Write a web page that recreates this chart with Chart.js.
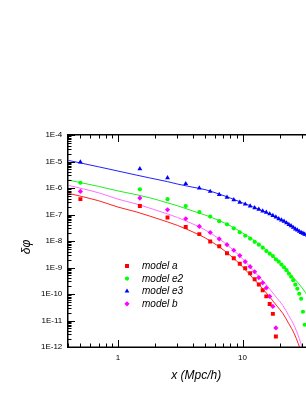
<!DOCTYPE html>
<html><head><meta charset="utf-8">
<script src="https://cdn.jsdelivr.net/npm/chart.js@4.4.1/dist/chart.umd.min.js"></script>
<style>html,body{margin:0;padding:0;background:#fff;overflow:hidden;width:306px;height:396px}canvas{display:block}</style>
</head><body>
<canvas id="c" width="330" height="396"></canvas>
<script>
// ---- data ----
const seriesLabels = ['model a', 'model e2', 'model e3', 'model b'];

const pointX = [0.5,1.5,2.5,3.5,4.5,5.5,6.5,7.5,8.5,9.5,10.5,11.5,12.5,13.5,14.5,15.5,
  16.5,17.5,18.5,19.5,20.5,21.5,22.5,23.5,24.5,25.5,26.5,27.5,28.5,29.5,30.5,31.5];

const pointsA = [3.80e-7,2.09e-7,7.76e-8,3.39e-8,1.82e-8,9.55e-9,6.31e-9,3.47e-9,2.24e-9,1.38e-9,
  9.33e-10,6.03e-10,3.63e-10,2.29e-10,1.38e-10,8.13e-11,4.17e-11,1.78e-11,2.51e-12];
const pointsE2 = [1.58e-6,8.91e-7,3.80e-7,2.09e-7,1.23e-7,8.32e-8,5.62e-8,4.27e-8,3.02e-8,2.14e-8,
  1.58e-8,1.23e-8,9.33e-9,7.24e-9,5.62e-9,4.17e-9,3.31e-9,2.69e-9,2.04e-9,1.66e-9,1.29e-9,
  1.02e-9,7.94e-10,5.89e-10,4.47e-10,3.31e-10,2.24e-10,1.58e-10,1.02e-10,6.61e-11,2.14e-11,6.92e-12];
const pointsE3 = [9.55e-6,5.25e-6,2.40e-6,1.45e-6,1.00e-6,7.41e-7,5.62e-7,4.47e-7,3.55e-7,2.88e-7,
  2.45e-7,2.09e-7,1.78e-7,1.58e-7,1.35e-7,1.20e-7,1.05e-7,9.12e-8,7.94e-8,6.92e-8,6.17e-8,
  5.50e-8,4.79e-8,4.17e-8,3.72e-8,3.24e-8,2.82e-8,2.57e-8,2.29e-8,2.09e-8,1.95e-8,1.78e-8];
const pointsB = [7.41e-7,4.17e-7,1.51e-7,6.92e-8,3.55e-8,2.09e-8,1.20e-8,7.24e-9,4.47e-9,2.82e-9,
  1.66e-9,1.07e-9,6.92e-10,4.17e-10,2.63e-10,1.70e-10,8.13e-11,3.39e-11,5.25e-12];

const lineX = [0.4,0.7,1,1.4,1.8,2.5,3,4,5,6.5,8,10,12,14,16.5,19,21,23.5,26,28,30,32,36,40,45];
const lineA = [6.31e-7,3.31e-7,1.91e-7,1.26e-7,8.71e-8,5.25e-8,3.89e-8,2.19e-8,1.32e-8,6.03e-9,
  2.82e-9,1.07e-9,4.17e-10,1.91e-10,7.76e-11,3.39e-11,1.86e-11,7.59e-12,3.16e-12,1.32e-12,
  5.01e-13,1.58e-13,1.58e-14,1e-15,3.16e-17];
const lineE2 = [2.00e-6,1.15e-6,7.76e-7,5.62e-7,4.27e-7,2.75e-7,2.14e-7,1.35e-7,9.55e-8,5.89e-8,
  3.72e-8,2.00e-8,1.17e-8,6.76e-9,3.55e-9,1.86e-9,1.17e-9,6.76e-10,3.80e-10,2.57e-10,1.70e-10,
  1.12e-10,5.01e-11,2.00e-11,6.31e-12];
const lineE3 = [1.10e-5,6.31e-6,4.37e-6,3.09e-6,2.40e-6,1.74e-6,1.41e-6,1.07e-6,8.71e-7,5.89e-7,
  4.17e-7,2.75e-7,2.00e-7,1.48e-7,1.05e-7,7.59e-8,5.89e-8,4.27e-8,3.09e-8,2.40e-8,1.91e-8,
  1.51e-8,1.00e-8,6.31e-9,3.55e-9];
const lineB = [1.26e-6,6.61e-7,3.80e-7,2.51e-7,1.74e-7,1.05e-7,7.76e-8,4.37e-8,2.63e-8,1.20e-8,
  5.62e-9,2.14e-9,8.32e-10,3.80e-10,1.55e-10,6.76e-11,3.72e-11,1.51e-11,6.31e-12,2.63e-12,
  1.00e-12,3.16e-13,3.16e-14,2.0e-15,6.31e-17];

// axis ticks
const xMajorTicks = [1, 10];
const xMinorTicks = [0.4,0.5,0.6,0.7,0.8,0.9,2,3,4,5,6,7,8,9,20,30,40];
const yDecades = [1e-12,1e-11,1e-10,1e-9,1e-8,1e-7,1e-6,1e-5,1e-4];
const yMinorMult = [2,3,4,5,6,7,8,9];
const yTickLabels = ['1E-12','1E-11','1E-10','1E-9','1E-8','1E-7','1E-6','1E-5','1E-4'];

// ---- styles ----
const FONT = '"Liberation Sans", Arial, Helvetica, sans-serif';
Chart.defaults.font.family = FONT;
Chart.defaults.color = '#000';

function pts(xs, ys){ return ys.map((y,i)=>({x:xs[i], y})); }

const markerSets = [
  {label:seriesLabels[0], data:pts(pointX,pointsA), color:'#ff0000', style:'rect', r:2.8},
  {label:seriesLabels[1], data:pts(pointX,pointsE2), color:'#00ff00', style:'circle', r:2.1},
  {label:seriesLabels[2], data:pts(pointX,pointsE3), color:'#0000ff', style:'triangle', r:2.8},
  {label:seriesLabels[3], data:pts(pointX,pointsB), color:'#ff00ff', style:'rectRot', r:2.6}
];
const lineSets = [
  {data:pts(lineX,lineA), color:'#ff2020'},
  {data:pts(lineX,lineE2), color:'#20ee20'},
  {data:pts(lineX,lineE3), color:'#2020ff'},
  {data:pts(lineX,lineB), color:'#ff70ff'}
];

const datasets = [];
markerSets.forEach(m => datasets.push({
  label:m.label, data:m.data, showLine:false, order:0,
  pointStyle:m.style, pointRadius:m.r, pointHoverRadius:m.r,
  backgroundColor:m.color, borderColor:m.color, pointBorderWidth:0
}));
lineSets.forEach(l => datasets.push({
  label:'', data:l.data, showLine:true, order:1, pointRadius:0,
  borderColor:l.color, borderWidth:1, cubicInterpolationMode:'monotone', fill:false
}));

function drawFrame(chart){
  const ctx = chart.ctx;
  const a = chart.chartArea;
  const xs = chart.scales.x, ys = chart.scales.y;
  const L = Math.round(a.left), R = Math.round(a.right), T = Math.round(a.top), B = Math.round(a.bottom);
  ctx.save();
  ctx.globalAlpha = 1;
  ctx.globalCompositeOperation = 'source-over';
  ctx.fillStyle = '#000000';
  const xt = xMajorTicks.map(v=>({v:v,L:7})).concat(xMinorTicks.map(v=>({v:v,L:3.5})));
  xt.forEach(t=>{
    const px = Math.round(xs.getPixelForValue(t.v));
    ctx.fillRect(px, B - t.L, 1, t.L);
    ctx.fillRect(px, T, 1, t.L);
  });
  const yt = [];
  yDecades.forEach(d=>{ yt.push({v:d,L:7}); if (d < 1e-4) yMinorMult.forEach(m=>yt.push({v:m*d,L:3.5})); });
  yt.forEach(t=>{
    const py = Math.round(ys.getPixelForValue(t.v));
    ctx.fillRect(L, py, t.L, 1);
    ctx.fillRect(R - t.L, py, t.L, 1);
  });
  // frame
  ctx.fillRect(L - 1, T - 1, R - L + 2, 1.5);
  ctx.fillRect(L - 1, B - 0.5, R - L + 2, 1.5);
  ctx.fillRect(L - 1, T - 1, 1.5, B - T + 2);
  ctx.fillRect(R - 0.5, T - 1, 1.5, B - T + 2);
  ctx.restore();
}

function drawLegend(chart){
  const ctx = chart.ctx;
  const x0 = 127, y0 = 266, dy = 12.6, tx = 142;
  markerSets.forEach((m,i)=>{
    const yy = y0 + i*dy;
    ctx.save();
    ctx.fillStyle = m.color; ctx.strokeStyle = m.color;
    Chart.helpers.drawPoint(ctx, {pointStyle:m.style, radius:m.r, rotation:0, borderWidth:0}, x0, yy);
    ctx.restore();
    ctx.save();
    ctx.fillStyle = '#000';
    ctx.font = 'italic 10px ' + FONT;
    ctx.textAlign = 'left'; ctx.textBaseline = 'middle';
    ctx.fillText(m.label, tx, yy + 0.5);
    ctx.restore();
  });
}

const overlay = {
  id:'overlay',
  afterDraw(chart){
    drawLegend(chart);
    drawFrame(chart);
  }
};

new Chart(document.getElementById('c'), {
  type:'scatter',
  data:{datasets},
  plugins:[overlay],
  options:{
    responsive:false, animation:false, devicePixelRatio:1,
    layout:{padding:{top:135, right:5, left:0, bottom:0}},
    plugins:{legend:{display:false}, tooltip:{enabled:false}},
    scales:{
      x:{
        type:'logarithmic', min:0.4, max:45, position:'bottom',
        grid:{display:false, drawTicks:false},
        border:{display:false},
        ticks:{autoSkip:false, maxRotation:0, padding:6, font:{size:8},
          callback:(v)=>{ const i = xMajorTicks.findIndex(t=>Math.abs(t-v)<1e-9); return i>=0 ? String(xMajorTicks[i]) : ''; }},
        title:{display:true, text:'x (Mpc/h)', font:{size:12, style:'italic'}, padding:{top:0, bottom:13.2}},
        afterFit:(s)=>{ s.height = 49; }
      },
      y:{
        type:'logarithmic', min:1e-12, max:1e-4, position:'left',
        grid:{display:false, drawTicks:false},
        border:{display:false},
        ticks:{autoSkip:false, padding:6, font:{size:8},
          callback:(v)=>{ const e = Math.log10(v); const r = Math.round(e);
            if (Math.abs(e-r) < 1e-6) { const i = yDecades.findIndex(d=>Math.abs(Math.log10(d)-r)<1e-6); return i>=0 ? yTickLabels[i] : ''; }
            return ''; }},
        title:{display:true, text:'\u03B4\u03C6\u2002\u2002', font:{size:12, style:'italic'}, padding:{top:19.8, bottom:0}},
        afterFit:(s)=>{ s.width = 68.3; }
      }
    }
  }
});
</script></body></html>
